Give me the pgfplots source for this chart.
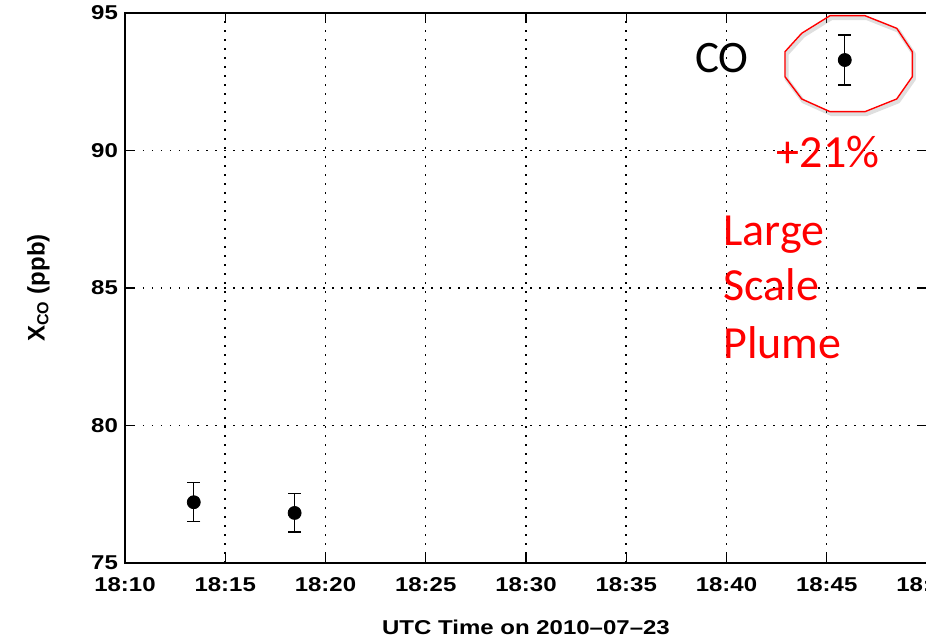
\documentclass[border=0pt]{standalone}
\usepackage{fontspec}
\setmainfont{Liberation Sans}
\newfontfamily\matfont[FakeStretch=1.2]{Liberation Sans}
\newfontfamily\calfont{Carlito}
\usepackage{pgfplots}
\pgfplotsset{compat=1.18}
\begin{document}
\begin{tikzpicture}
\useasboundingbox (-62.5pt,-39pt) rectangle (400.5pt,281.5pt);
\clip (-62.5pt,-39pt) rectangle (400.5pt,281.5pt);
\begin{axis}[
  at={(0pt,0pt)}, anchor=south west,
  scale only axis, width=401pt, height=275pt,
  xmin=10, xmax=50, ymin=75, ymax=95,
  xtick={10,15,20,25,30,35,40,45,50},
  xticklabels={18:10,18:15,18:20,18:25,18:30,18:35,18:40,18:45,18:50},
  ytick={75,80,85,90,95},
  yticklabels={75,80,85,90,95},
  tick align=inside, major tick length=5pt,
  axis line style={black, line width=0.65pt},
  tick style={black, line width=0.65pt},
  grid=major,
  major grid style={black, line width=0.75pt, dash pattern=on 0.75pt off 3.75pt},
  ticklabel style={font=\matfont\bfseries\fontsize{10}{12}\selectfont},
  xticklabel style={yshift=-3.5pt},
  xlabel={UTC Time on 2010–07–23},
  xlabel style={font=\matfont\bfseries\fontsize{10}{12}\selectfont, at={(axis description cs:0.5,0)}, anchor=base, yshift=-35.6pt},
  ylabel={X\textsubscript{CO} (ppb)},
  ylabel style={font=\bfseries\fontsize{12}{14}\selectfont, at={([xshift=-43.25pt]axis description cs:0,0.5)}, anchor=center},
  clip=false,
]
\addplot+[black, only marks, mark=*, mark size=3.25pt,
  mark options={fill=black, draw=black},
  error bars/.cd, y dir=both, y explicit,
  error bar style={black, line width=0.7pt},
  error mark options={black, line width=0.7pt, mark size=3.25pt, rotate=90}]
  coordinates {
  (13.43,77.21) +- (0,0.71)
  (18.46,76.82) +- (0,0.70)
  (45.90,93.29) +- (0,0.91)
  };
\end{axis}
\draw[gray, opacity=0.25, line width=2pt, line join=round, shift={(0.8pt,-1.2pt)}]
  (352.5pt,273.65pt) -- (370pt,273.65pt) -- (385.85pt,267.35pt) -- (393.65pt,255.65pt) --
  (393.65pt,243.15pt) -- (385.85pt,232pt) -- (370pt,225.65pt) -- (352.5pt,225.65pt) --
  (338.35pt,232pt) -- (330pt,243.15pt) -- (330pt,255.65pt) -- (338.35pt,264.85pt) -- cycle;
\draw[red, line width=0.7pt, line join=round]
  (352.5pt,273.65pt) -- (370pt,273.65pt) -- (385.85pt,267.35pt) -- (393.65pt,255.65pt) --
  (393.65pt,243.15pt) -- (385.85pt,232pt) -- (370pt,225.65pt) -- (352.5pt,225.65pt) --
  (338.35pt,232pt) -- (330pt,243.15pt) -- (330pt,255.65pt) -- (338.35pt,264.85pt) -- cycle;
\node[inner sep=0pt, anchor=center, font=\calfont\fontsize{22.5}{27}\selectfont] at (298.5pt,252.5pt) {CO};
\node[inner sep=0pt, anchor=center, text=red, font=\calfont\fontsize{23}{27}\selectfont] at (351.5pt,205.25pt) {+21\%};
\node[inner sep=0pt, anchor=base west, text=red, font=\calfont\fontsize{23}{27}\selectfont] at (299pt,158.5pt) {Large};
\node[inner sep=0pt, anchor=base west, text=red, font=\calfont\fontsize{23}{27}\selectfont] at (299pt,131pt) {Scale};
\node[inner sep=0pt, anchor=base west, text=red, font=\calfont\fontsize{23}{27}\selectfont] at (299pt,102pt) {Plume};
\end{tikzpicture}
\end{document}
